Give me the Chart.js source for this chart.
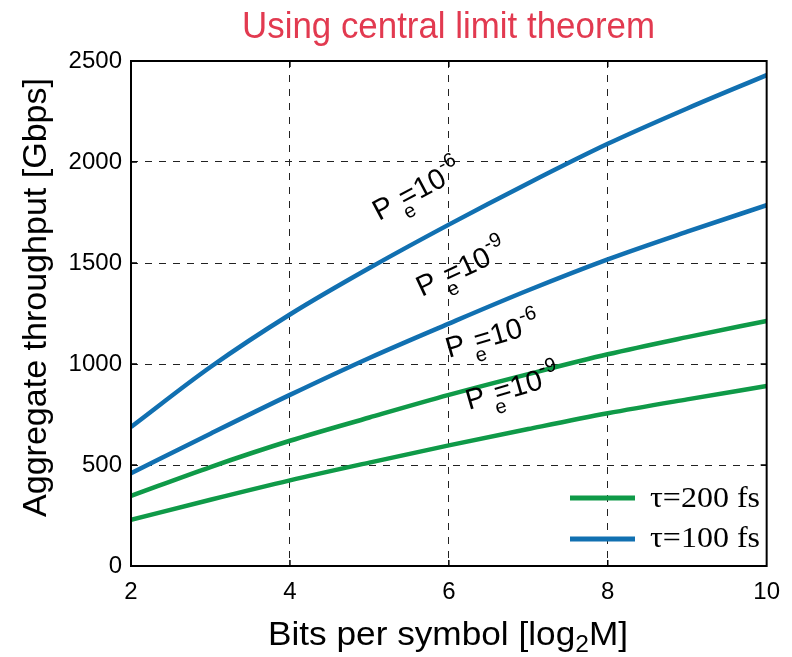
<!DOCTYPE html>
<html>
<head>
<meta charset="utf-8">
<script src="https://cdn.jsdelivr.net/npm/chart.js@4.4.1/dist/chart.umd.min.js"></script>
<style>
  html, body { margin: 0; padding: 0; background: #fff; }
  #wrap { width: 792px; height: 657px; }
</style>
</head>
<body>
<div id="wrap"><canvas id="chart" width="792" height="657"></canvas></div>
<script>
// data
const bits = [2, 3, 4, 5, 6, 7, 8, 9, 10];
const tau100Pe6 = [688, 985, 1245, 1475, 1690, 1895, 2090, 2265, 2430];
const tau100Pe9 = [459, 655, 847, 1030, 1200, 1365, 1518, 1655, 1786];
const tau200Pe6 = [347, 490, 620, 735, 847, 950, 1048, 1133, 1213];
const tau200Pe9 = [228, 328, 424, 512, 597, 678, 756, 825, 891];
const xTicks = [2, 4, 6, 8, 10];
const yTicks = [0, 500, 1000, 1500, 2000, 2500];

const BLUE = '#1170b1';
const GREEN = '#0f9a48';
const SANS = '"Liberation Sans", Arial, sans-serif';
const SERIF = '"Liberation Serif", "Times New Roman", serif';

// curve labels: anchor (data units), angle (deg), exponent
const peLabels = [
    { x: 5.12, y: 1708, angle: -28, exp: '-6' },
    { x: 5.66, y: 1332, angle: -25, exp: '-9' },
    { x: 6.0, y: 1030, angle: -16, exp: '-6' },
    { x: 6.25, y: 772, angle: -16, exp: '-9' }
];

function toPoints(arr) {
    return bits.map((b, i) => ({ x: b, y: arr[i] }));
}

function fitText(ctx, text, x, y, width) {
    const w = ctx.measureText(text).width;
    ctx.save();
    ctx.translate(x, y);
    ctx.scale(width / w, 1);
    ctx.fillText(text, 0, 0);
    ctx.restore();
}

const decor = {
    id: 'decor',
    afterDatasetsDraw(chart) {
        const ctx = chart.ctx;
        const a = chart.chartArea;
        const xs = chart.scales.x, ys = chart.scales.y;
        ctx.save();

        // frame + inward ticks
        ctx.strokeStyle = '#000';
        ctx.lineWidth = 2;
        ctx.strokeRect(a.left, a.top, a.right - a.left, a.bottom - a.top);
        ctx.lineWidth = 1.5;
        ctx.beginPath();
        xTicks.slice(1, -1).forEach(v => {
            const px = xs.getPixelForValue(v);
            ctx.moveTo(px, a.bottom); ctx.lineTo(px, a.bottom - 6);
            ctx.moveTo(px, a.top); ctx.lineTo(px, a.top + 6);
        });
        yTicks.slice(1, -1).forEach(v => {
            const py = ys.getPixelForValue(v);
            ctx.moveTo(a.left, py); ctx.lineTo(a.left + 6, py);
            ctx.moveTo(a.right, py); ctx.lineTo(a.right - 6, py);
        });
        ctx.stroke();

        // P_e labels
        ctx.fillStyle = '#000';
        ctx.textBaseline = 'alphabetic';
        ctx.textAlign = 'left';
        peLabels.forEach(l => {
            ctx.save();
            ctx.translate(xs.getPixelForValue(l.x), ys.getPixelForValue(l.y));
            ctx.rotate(l.angle * Math.PI / 180);
            ctx.font = '29px ' + SANS;
            ctx.fillText('P', 0, 0);
            const wp = ctx.measureText('P').width;
            ctx.font = '20px ' + SANS;
            ctx.fillText('e', wp + 7, 12);
            ctx.font = '29px ' + SANS;
            ctx.fillText('=10', wp + 10, 0);
            const w10 = ctx.measureText('=10').width;
            ctx.font = '20px ' + SANS;
            ctx.fillText(l.exp, wp + 10 + w10, -14);
            ctx.restore();
        });

        // legend
        const legend = [
            { color: GREEN, text: '\u03c4=200 fs', y: 498, base: 507 },
            { color: BLUE, text: '\u03c4=100 fs', y: 539, base: 547 }
        ];
        legend.forEach(e => {
            ctx.strokeStyle = e.color;
            ctx.lineWidth = 5;
            ctx.beginPath();
            ctx.moveTo(570, e.y); ctx.lineTo(635, e.y);
            ctx.stroke();
            ctx.fillStyle = '#000';
            ctx.font = '29px ' + SERIF;
            fitText(ctx, e.text, 650, e.base, 110);
        });

        // title
        ctx.fillStyle = '#e23a50';
        ctx.font = '36px ' + SANS;
        fitText(ctx, 'Using central limit theorem', 242, 38, 413);

        // y axis title
        ctx.fillStyle = '#000';
        ctx.font = '33px ' + SANS;
        ctx.save();
        ctx.translate(46, 517);
        ctx.rotate(-Math.PI / 2);
        fitText(ctx, 'Aggregate throughput [Gbps]', 0, 0, 439);
        ctx.restore();

        // x axis title with subscript
        const p1 = 'Bits per symbol [log', p2 = '2', p3 = 'M]';
        ctx.font = '33px ' + SANS;
        const w1 = ctx.measureText(p1).width, w3 = ctx.measureText(p3).width;
        ctx.font = '23px ' + SANS;
        const w2 = ctx.measureText(p2).width;
        const k = 360 / (w1 + w2 + w3);
        ctx.save();
        ctx.translate(268, 645);
        ctx.scale(k, 1);
        ctx.font = '33px ' + SANS;
        ctx.fillText(p1, 0, 0);
        ctx.font = '23px ' + SANS;
        ctx.fillText(p2, w1, 7);
        ctx.font = '33px ' + SANS;
        ctx.fillText(p3, w1 + w2, 0);
        ctx.restore();

        ctx.restore();
    }
};

function lineSet(label, arr, color) {
    return {
        label: label,
        data: toPoints(arr),
        borderColor: color,
        backgroundColor: color,
        borderWidth: 4.5,
        pointRadius: 0,
        cubicInterpolationMode: 'monotone',
        fill: false
    };
}

document.addEventListener('DOMContentLoaded', function() {
    const ctx = document.getElementById('chart');
    new Chart(ctx, {
        type: 'line',
        data: {
            datasets: [
                lineSet('\u03c4=100 fs, Pe=1e-6', tau100Pe6, BLUE),
                lineSet('\u03c4=100 fs, Pe=1e-9', tau100Pe9, BLUE),
                lineSet('\u03c4=200 fs, Pe=1e-6', tau200Pe6, GREEN),
                lineSet('\u03c4=200 fs, Pe=1e-9', tau200Pe9, GREEN)
            ]
        },
        options: {
            responsive: false,
            animation: false,
            layout: { padding: { top: 61, right: 21, left: 0, bottom: 0 } },
            plugins: {
                legend: { display: false },
                title: { display: false },
                tooltip: { enabled: false }
            },
            scales: {
                x: {
                    type: 'linear',
                    min: 2,
                    max: 10,
                    afterBuildTicks: s => { s.ticks = xTicks.map(v => ({ value: v })); },
                    afterFit: s => { s.height = 91; },
                    grid: { color: '#222', lineWidth: 1, drawTicks: false },
                    border: { display: false, dash: [7, 7] },
                    ticks: {
                        color: '#000',
                        padding: 12,
                        maxRotation: 0,
                        font: { family: SANS, size: 24 },
                        callback: v => String(v)
                    }
                },
                y: {
                    min: 0,
                    max: 2500,
                    afterBuildTicks: s => { s.ticks = yTicks.map(v => ({ value: v })); },
                    afterFit: s => { s.width = 131; },
                    grid: { color: '#222', lineWidth: 1, drawTicks: false },
                    border: { display: false, dash: [7, 7] },
                    ticks: {
                        color: '#000',
                        padding: 9,
                        font: { family: SANS, size: 24 },
                        callback: v => String(v)
                    }
                }
            }
        },
        plugins: [decor]
    });
});
</script>
</body>
</html>
